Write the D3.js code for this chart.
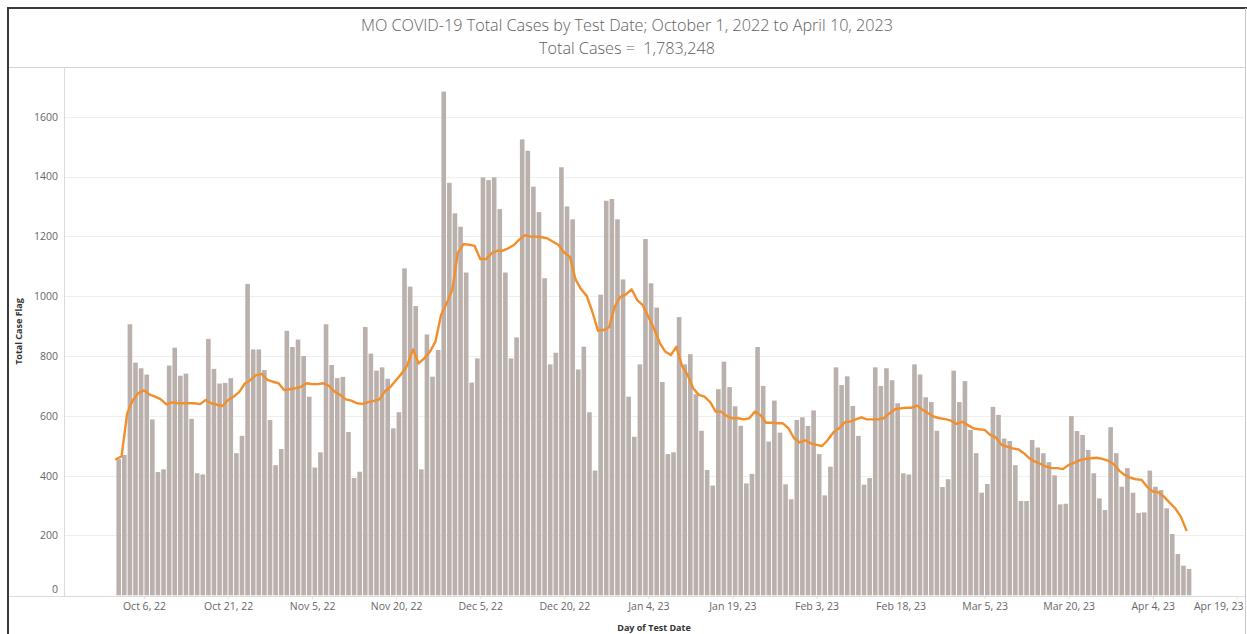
<!DOCTYPE html>
<html>
<head>
<meta charset="utf-8">
<script src="https://cdn.jsdelivr.net/npm/d3@7"></script>
<style>
  body { margin: 0; background: #fff; }
  text { font-family: "Open Sans", sans-serif; }
</style>
</head>
<body>
<div id="chart"></div>
<script>
// Daily case counts, Oct 1 2022 .. Apr 10 2023 (one value per day)
const startDate = '2022-10-01';
const caseCounts = [
  455, 469, 906, 778, 759, 738, 588, 412, 421, 768, 828, 734, 741, 590, 408, 404, 857, 757, 708, 710, 726, 475, 533, 1041,
  822, 822, 753, 586, 435, 489, 884, 830, 855, 800, 664, 427, 478, 906, 770, 726, 730, 546, 392, 413, 897, 808, 751, 762, 724,
  558, 612, 1093, 1032, 967, 421, 872, 731, 820, 1684, 1379, 1277, 1232, 1079, 711, 792, 1397, 1388, 1397, 1291, 1079, 792, 862, 1524, 1486,
  1366, 1281, 1060, 772, 811, 1431, 1300, 1257, 755, 831, 612, 417, 1005, 1319, 1325, 1257, 1056, 664, 530, 772, 1191, 1043, 962, 713, 472,
  478, 930, 772, 806, 672, 550, 419, 367, 689, 781, 696, 632, 567, 374, 406, 830, 700, 514, 651, 544, 371, 321, 586, 595, 566,
  618, 472, 334, 430, 762, 703, 732, 633, 533, 370, 392, 762, 700, 759, 719, 642, 408, 404, 772, 738, 662, 646, 550, 362, 388,
  751, 646, 716, 553, 475, 343, 372, 630, 603, 524, 516, 435, 315, 315, 519, 494, 475, 445, 401, 304, 306, 599, 549, 536, 486,
  408, 324, 285, 562, 475, 363, 425, 343, 275, 277, 417, 363, 352, 291, 205, 138, 99, 88
];

// Orange trend line
const movingAvg = [
  455, 465, 609, 652, 676, 685, 671, 664, 655, 638, 645, 642, 642, 642, 642, 639, 653, 642, 637, 633, 653, 664, 680, 708,
  720, 736, 740, 720, 714, 709, 686, 689, 692, 697, 709, 706, 706, 709, 700, 681, 670, 655, 651, 642, 640, 646, 650, 655, 682,
  697, 720, 742, 770, 822, 775, 792, 814, 848, 937, 976, 1021, 1145, 1174, 1172, 1168, 1124, 1124, 1143, 1152, 1152, 1160, 1171, 1190, 1204,
  1199, 1199, 1197, 1193, 1182, 1171, 1145, 1132, 1056, 1023, 1001, 948, 885, 887, 896, 965, 998, 1006, 1023, 987, 970, 931, 892, 845, 815,
  803, 831, 767, 737, 692, 670, 664, 647, 614, 614, 599, 592, 592, 588, 592, 614, 603, 577, 577, 575, 575, 558, 525, 511, 518,
  508, 503, 499, 519, 544, 558, 578, 581, 588, 595, 588, 588, 588, 592, 608, 622, 625, 627, 627, 634, 619, 608, 597, 592, 589,
  584, 573, 580, 569, 558, 555, 553, 536, 528, 503, 497, 491, 488, 475, 458, 447, 439, 430, 425, 425, 422, 436, 443, 452, 456,
  458, 460, 456, 450, 439, 417, 402, 393, 388, 386, 363, 347, 344, 330, 310, 291, 263, 218
];

const xTickDates = ['2022-10-06', '2022-10-21', '2022-11-05', '2022-11-20', '2022-12-05', '2022-12-20', '2023-01-04',
  '2023-01-19', '2023-02-03', '2023-02-18', '2023-03-05', '2023-03-20', '2023-04-04', '2023-04-19'];
const yTicks = [0, 200, 400, 600, 800, 1000, 1200, 1400, 1600];

const titleLine1 = 'MO COVID-19 Total Cases by Test Date; October 1, 2022 to April 10, 2023';
const titleLine2 = 'Total Cases =  1,783,248';

// Canvas and pane geometry
const WIDTH = 1247;
const HEIGHT = 634;
const PANE = { LEFT: 64, RIGHT: 1244, TOP: 67, BOTTOM: 596 };
const DAY_PX = 5.604;
const FIRST_X = 116;

const parseDay = d3.timeParse('%Y-%m-%d');
const day0 = parseDay(startDate);
const data = caseCounts.map((v, i) => ({
  date: d3.timeDay.offset(day0, i),
  cases: v,
  avg: movingAvg[i]
}));

const svg = d3.select('#chart')
  .append('svg')
  .attr('width', WIDTH)
  .attr('height', HEIGHT);

// x scale: one day per DAY_PX, Oct 1 to Apr 19
const xEnd = parseDay('2023-04-19');
const x = d3.scaleTime()
  .domain([day0, xEnd])
  .range([FIRST_X, FIRST_X + d3.timeDay.count(day0, xEnd) * DAY_PX]);

const y = d3.scaleLinear()
  .domain([0, 1600])
  .range([595.3, 116.7]);

// Title (two lines, light gray)
svg.append('text')
  .attr('x', 627)
  .attr('y', 31)
  .attr('text-anchor', 'middle')
  .attr('fill', '#606060')
  .style('font-size', '16.2px')
  .style('font-weight', 300)
  .text(titleLine1);

svg.append('text')
  .attr('x', 627)
  .attr('y', 54)
  .attr('text-anchor', 'middle')
  .attr('fill', '#606060')
  .style('font-size', '16.2px')
  .style('font-weight', 300)
  .style('white-space', 'pre')
  .attr('xml:space', 'preserve')
  .text(titleLine2);

// Gridlines
svg.append('g')
  .selectAll('line')
  .data(yTicks.filter(d => d > 0))
  .enter()
  .append('line')
  .attr('x1', PANE.LEFT)
  .attr('x2', PANE.RIGHT)
  .attr('y1', d => Math.round(y(d)) + 0.5)
  .attr('y2', d => Math.round(y(d)) + 0.5)
  .attr('stroke', '#efefef')
  .attr('stroke-width', 1);

// Bars
svg.append('g')
  .selectAll('rect')
  .data(data)
  .enter()
  .append('rect')
  .attr('x', d => x(d.date) + 0.4)
  .attr('width', DAY_PX - 1)
  .attr('y', d => y(d.cases))
  .attr('height', d => y(0) - y(d.cases))
  .attr('fill', '#bab0ac');

// Trend line
svg.append('path')
  .datum(data)
  .attr('fill', 'none')
  .attr('stroke', '#f28e2b')
  .attr('stroke-width', 2.4)
  .attr('stroke-linejoin', 'round')
  .attr('stroke-linecap', 'round')
  .attr('d', d3.line().x(d => x(d.date)).y(d => y(d.avg)));

// Frame lines
const frame = svg.append('g').attr('fill', 'none');
frame.append('line').attr('x1', 8).attr('x2', WIDTH).attr('y1', 8).attr('y2', 8)
  .attr('stroke', '#3a3a3a').attr('stroke-width', 2);
frame.append('line').attr('x1', 8).attr('x2', 8).attr('y1', 7).attr('y2', HEIGHT)
  .attr('stroke', '#3a3a3a').attr('stroke-width', 2);
frame.append('line').attr('x1', 1245.5).attr('x2', 1245.5).attr('y1', 8).attr('y2', HEIGHT)
  .attr('stroke', '#c8c8c8').attr('stroke-width', 1);
frame.append('line').attr('x1', 9).attr('x2', 1245).attr('y1', PANE.TOP + 0.5).attr('y2', PANE.TOP + 0.5)
  .attr('stroke', '#d4d4d4').attr('stroke-width', 1);
frame.append('line').attr('x1', PANE.LEFT + 0.5).attr('x2', PANE.LEFT + 0.5).attr('y1', PANE.TOP).attr('y2', PANE.BOTTOM + 1)
  .attr('stroke', '#dcdcdc').attr('stroke-width', 1);
frame.append('line').attr('x1', 9).attr('x2', 1245).attr('y1', PANE.BOTTOM + 0.5).attr('y2', PANE.BOTTOM + 0.5)
  .attr('stroke', '#dcdcdc').attr('stroke-width', 1);

// y axis
const yAxis = svg.append('g')
  .attr('transform', `translate(${PANE.LEFT}, 0)`)
  .call(d3.axisLeft(y).tickValues(yTicks).tickSize(0).tickPadding(6).tickFormat(d3.format('d')));
yAxis.select('.domain').remove();
yAxis.selectAll('text')
  .attr('fill', '#666')
  .style('font-size', '10.5px')
  .style('font-family', '"Open Sans", sans-serif');
// keep the bottom label inside the pane like the original
yAxis.selectAll('.tick').filter(d => d === 0).select('text').attr('dy', '-0.25em');

// x axis
const xAxis = svg.append('g')
  .attr('transform', `translate(0, ${PANE.BOTTOM})`)
  .call(d3.axisBottom(x)
    .tickValues(xTickDates.map(parseDay))
    .tickSize(3)
    .tickPadding(4)
    .tickFormat(d3.timeFormat('%b %-d, %y')));
xAxis.select('.domain').remove();
xAxis.selectAll('line').attr('stroke', '#e2e2e2');
xAxis.selectAll('text')
  .attr('fill', '#666')
  .style('font-size', '10.5px')
  .style('font-family', '"Open Sans", sans-serif');
// pull the last label back inside the pane
xAxis.selectAll('.tick text').each(function(d) {
  const box = this.getBBox();
  const right = x(d) + box.x + box.width;
  if (right > 1243) {
    d3.select(this).attr('x', 1243 - right);
  }
});

// Axis titles
svg.append('text')
  .attr('x', 654)
  .attr('y', 631)
  .attr('text-anchor', 'middle')
  .attr('fill', '#333')
  .style('font-size', '9px')
  .style('font-weight', 'bold')
  .text('Day of Test Date');

svg.append('text')
  .attr('transform', `translate(22, ${(PANE.TOP + PANE.BOTTOM) / 2}) rotate(-90)`)
  .attr('text-anchor', 'middle')
  .attr('fill', '#333')
  .style('font-size', '9px')
  .style('font-weight', 'bold')
  .text('Total Case Flag');
</script>
</body>
</html>
